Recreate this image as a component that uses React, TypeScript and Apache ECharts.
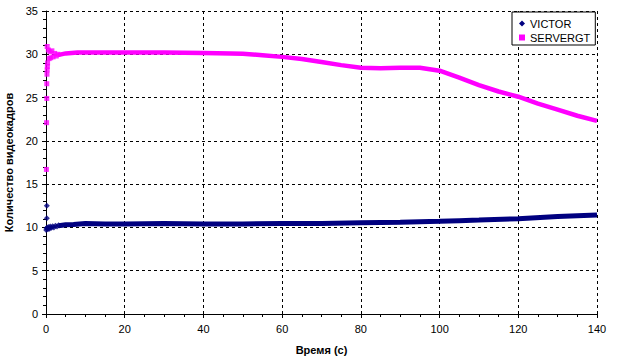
import React, { useEffect, useRef } from "react";
import * as echarts from "echarts";

const xTicks = [0, 20, 40, 60, 80, 100, 120, 140];
const yTicks = [0, 5, 10, 15, 20, 25, 30, 35];

const victorEarly: [number, number][] = [
  [0.2, 12.5], [0.2, 11.05], [0.05, 9.7], [0.15, 9.9], [0.3, 10.0], [0.5, 9.8],
  [0.7, 10.05], [0.9, 9.85], [1.1, 10.1], [1.4, 9.95], [1.7, 10.15], [2.0, 10.0],
  [2.4, 10.2], [2.8, 10.1], [3.2, 10.25],
];
const victorLine: [number, number][] = [
  [3.2, 10.2], [5, 10.3], [7, 10.35], [10, 10.45], [15, 10.4], [20, 10.4],
  [30, 10.45], [40, 10.4], [50, 10.4], [60, 10.45], [70, 10.45], [80, 10.55],
  [90, 10.6], [100, 10.7], [105, 10.78], [110, 10.85], [120, 11.0], [130, 11.25],
  [140, 11.43],
];

const servergtEarly: [number, number][] = [
  [0.1, 16.7], [0.15, 22.1], [0.2, 24.9], [0.2, 26.6], [0.25, 27.7], [0.3, 28.2],
  [0.35, 28.6], [0.4, 29.0], [0.3, 30.9], [0.6, 30.5], [0.8, 29.5], [1.0, 30.3],
  [1.2, 29.6], [1.5, 30.4], [1.8, 29.7], [2.2, 30.1], [2.6, 29.8], [3.0, 30.0],
];
const servergtLine: [number, number][] = [
  [3.0, 29.9], [5, 30.1], [8, 30.2], [10, 30.2], [20, 30.2], [30, 30.2],
  [40, 30.15], [47, 30.1], [50, 30.05], [55, 29.9], [60, 29.7], [65, 29.45],
  [70, 29.1], [75, 28.75], [80, 28.45], [85, 28.4], [90, 28.45], [95, 28.45],
  [100, 28.1], [105, 27.3], [110, 26.45], [115, 25.7], [120, 25.1], [125, 24.3],
  [130, 23.6], [135, 22.9], [140, 22.3],
];

const NAVY = "#000080";
const MAGENTA = "#FF00FF";
const FONT = "Liberation Sans, Arial, sans-serif";

export default function App() {
  const ref = useRef<HTMLDivElement>(null);
  useEffect(() => {
    document.body.style.margin = "0";
    if (!ref.current) return;
    const chart = echarts.init(ref.current, null, { renderer: "svg" });
    chart.setOption({
      animation: false,
      backgroundColor: "#ffffff",
      textStyle: { fontFamily: FONT },
      grid: { left: 46, right: 25, top: 11, bottom: 49, containLabel: false, outerBoundsMode: "none" },
      legend: {
        orient: "vertical",
        left: 512,
        top: 12,
        padding: [6, 5, 2, 7],
        itemGap: 3,
        itemWidth: 6,
        itemHeight: 6,
        backgroundColor: "#ffffff",
        borderColor: "#000000",
        borderWidth: 1,
        borderRadius: 0,
        textStyle: { fontSize: 11, color: "#000", fontFamily: FONT },
        data: [
          { name: "VICTOR", icon: "diamond" },
          { name: "SERVERGT", icon: "rect" },
        ],
      },
      xAxis: {
        type: "value",
        min: xTicks[0],
        max: xTicks[xTicks.length - 1],
        interval: 20,
        name: "Время (с)",
        nameLocation: "middle",
        nameGap: 30,
        nameTextStyle: { fontSize: 11, fontWeight: "bold", color: "#000", fontFamily: FONT },
        axisLine: { show: true, lineStyle: { color: "#000", width: 1 } },
        axisTick: { show: true, length: 4, lineStyle: { color: "#000" } },
        minorTick: { show: true, splitNumber: 4, length: 3, lineStyle: { color: "#000" } },
        axisLabel: { fontSize: 11, color: "#000", margin: 9, fontFamily: FONT },
        splitLine: { show: true, lineStyle: { color: "#000", type: [3, 3], width: 1 } },
      },
      yAxis: {
        type: "value",
        min: yTicks[0],
        max: yTicks[yTicks.length - 1],
        interval: 5,
        name: "Количество видеокадров",
        nameLocation: "middle",
        nameGap: 22,
        nameTextStyle: { fontSize: 11, fontWeight: "bold", color: "#000", fontFamily: FONT },
        axisLine: { show: true, lineStyle: { color: "#000", width: 1 } },
        axisTick: { show: true, length: 4, lineStyle: { color: "#000" } },
        minorTick: { show: true, splitNumber: 5, length: 3, lineStyle: { color: "#000" } },
        axisLabel: { fontSize: 11, color: "#000", margin: 8, fontFamily: FONT },
        splitLine: { show: true, lineStyle: { color: "#000", type: [3, 3], width: 1 } },
      },
      series: [
        {
          name: "VICTOR",
          type: "line",
          data: victorLine,
          showSymbol: false,
          lineStyle: { color: NAVY, width: 5 },
          itemStyle: { color: NAVY },
          z: 3,
        },
        {
          name: "VICTOR",
          type: "scatter",
          data: victorEarly,
          symbol: "diamond",
          symbolSize: 6,
          itemStyle: { color: NAVY },
          z: 3,
        },
        {
          name: "SERVERGT",
          type: "line",
          data: servergtLine,
          showSymbol: false,
          lineStyle: { color: MAGENTA, width: 4.5 },
          itemStyle: { color: MAGENTA },
          z: 3,
        },
        {
          name: "SERVERGT",
          type: "scatter",
          data: servergtEarly,
          symbol: "rect",
          symbolSize: 5,
          itemStyle: { color: MAGENTA },
          z: 3,
        },
      ],
    });
    return () => chart.dispose();
  }, []);
  return <div ref={ref} style={{ width: 622, height: 363 }} />;
}
